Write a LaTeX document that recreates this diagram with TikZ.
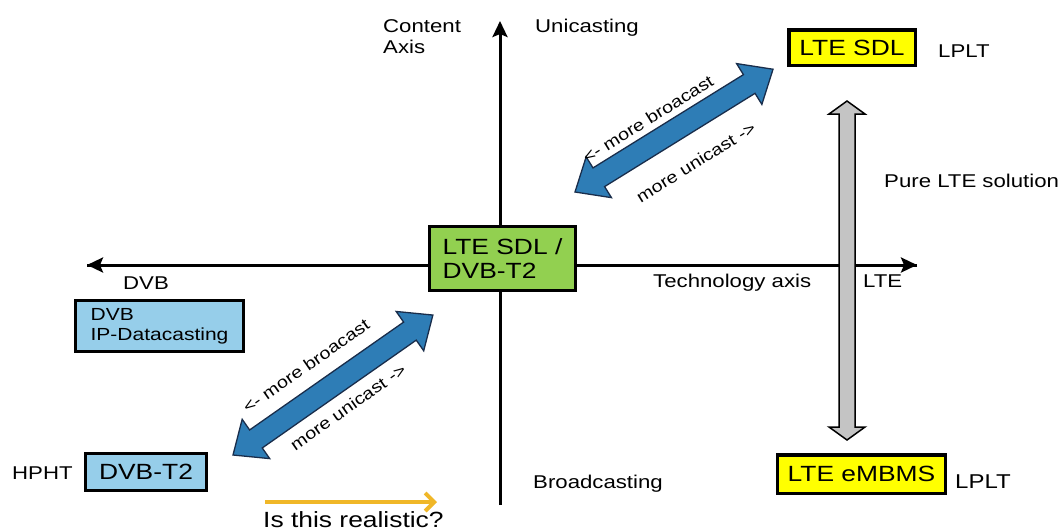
\documentclass[tikz,border=0pt]{standalone}
\usepackage{fontspec}
\setmainfont{Liberation Sans}[FakeStretch=1.2]
\usetikzlibrary{arrows.meta}
\definecolor{boxgreen}{RGB}{146,208,80}
\definecolor{boxblue}{RGB}{150,206,234}
\definecolor{boxyellow}{RGB}{255,255,0}
\definecolor{arrblue}{RGB}{46,125,182}
\definecolor{arredge}{RGB}{25,45,75}
\definecolor{arrgray}{RGB}{196,196,196}
\definecolor{arryellow}{RGB}{240,183,40}
\begin{document}
\begin{tikzpicture}[x=1pt,y=-1pt,
  lbl/.style={font=\fontsize{18.5}{21}\selectfont, inner sep=0, anchor=base west},
  tbox/.style={draw=black, line width=3.5pt, inner sep=0, font=\fontsize{22}{24}\selectfont},
  axisline/.style={line width=3pt, -{Stealth[length=16pt,width=15pt,inset=3pt]}},
  bluearrow/.style={fill=arrblue, draw=arredge, line width=1.3pt, line join=miter},
  grayarrow/.style={fill=arrgray, draw=black, line width=1.5pt, line join=miter},
  arrlbl/.style={font=\fontsize{16.5}{18}\selectfont, inner sep=0}]
\useasboundingbox (0,0) rectangle (1064,531);

% axes
\coordinate (atop) at (500,21);
\coordinate (abot) at (500,505);
\coordinate (aleft) at (87,265);
\coordinate (aright) at (917,265);
\draw[axisline] (abot) -- (atop);
\draw[axisline] (aright) -- (aleft);
\draw[axisline] (aleft) -- (aright);

% gray double arrow (pure LTE)
\draw[grayarrow] (847,101) -- (865,114) -- (855,114) -- (855,427) -- (865,427)
  -- (847,440) -- (829,427) -- (839,427) -- (839,114) -- (829,114) -- cycle;

% boxes
\node[tbox, fill=boxgreen, minimum width=146, minimum height=64, align=left] (center) at (502.5,258.5) {LTE SDL /\\DVB-T2};
\node[tbox, fill=boxyellow, minimum width=126.5, minimum height=35.5] (sdl) at (852,47.5) {LTE SDL};
\node[tbox, fill=boxyellow, minimum width=168, minimum height=38.5] (embms) at (861.5,474) {LTE eMBMS};
\node[tbox, fill=boxblue, minimum width=168, minimum height=51, align=left, font=\fontsize{17.5}{20}\selectfont] (dvbip) at (159.5,326) {DVB\\IP-Datacasting};
\node[tbox, fill=boxblue, minimum width=121, minimum height=37] (dvbt2) at (146,472) {DVB-T2};

% blue double arrows
\coordinate (u1) at (575,192);
\coordinate (l1) at (233,455);
\begin{scope}[shift={(u1)}, rotate=31.8]
  \draw[bluearrow] (0,0) -- (28,-24) -- (28,-11) -- (205,-11) -- (205,-24) -- (233,0)
    -- (205,24) -- (205,11) -- (28,11) -- (28,24) -- cycle;
\end{scope}
\begin{scope}[shift={(l1)}, rotate=35]
  \draw[bluearrow] (0,0) -- (28,-24) -- (28,-11) -- (216,-11) -- (216,-24) -- (244,0)
    -- (216,24) -- (216,11) -- (28,11) -- (28,24) -- cycle;
\end{scope}
\node[arrlbl, rotate=31.8] (ub) at (648,119) {<- more broacast};
\node[arrlbl, rotate=31.8] (uu) at (696,162) {more unicast ->};
\node[arrlbl, rotate=35] (lb) at (306,366) {<- more broacast};
\node[arrlbl, rotate=35] (lu) at (348,407) {more unicast ->};

% yellow arrow
\coordinate (ys) at (265,502);
\coordinate (ye) at (437,502);
\draw[arryellow, line width=4pt, -{Straight Barb[length=9pt,width=18pt]}] (ys) -- (ye);

% labels
\node[lbl, align=left] (content) at (383,53) {Content\\Axis};
\node[lbl] (unicasting) at (535,32) {Unicasting};
\node[lbl] (lplt1) at (938,57) {LPLT};
\node[lbl] (pure) at (884,187) {Pure LTE solution};
\node[lbl] (tech) at (653,287) {Technology axis};
\node[lbl] (lte) at (863,287) {LTE};
\node[lbl] (dvb) at (123,289) {DVB};
\node[lbl] (hpht) at (12,479) {HPHT};
\node[lbl] (broad) at (533,488) {Broadcasting};
\node[lbl, font=\fontsize{20}{22}\selectfont] (lplt2) at (955,488) {LPLT};
\node[lbl, font=\fontsize{22}{24}\selectfont] (real) at (263,527) {Is this realistic?};
\end{tikzpicture}
\end{document}
